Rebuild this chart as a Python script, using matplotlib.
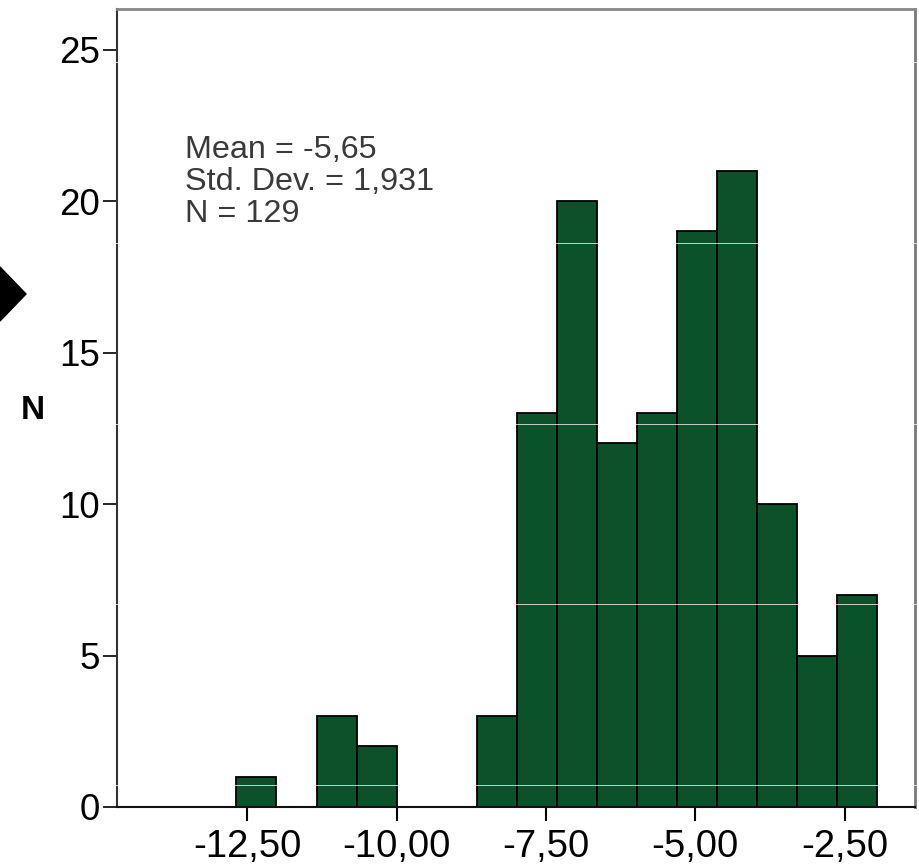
import numpy as np
import matplotlib
matplotlib.use('Agg')
import matplotlib.pyplot as plt
from matplotlib.patches import Polygon
from matplotlib.lines import Line2D

# ---- data ----
bin_start = -12.68
bin_width = 0.67
counts = [1, 0, 3, 2, 0, 0, 3, 13, 20, 12, 13, 19, 21, 10, 5, 7]
x_ticks = [-12.5, -10.0, -7.5, -5.0, -2.5]
x_tick_labels = ['-12,50', '-10,00', '-7,50', '-5,00', '-2,50']
y_ticks = [0, 5, 10, 15, 20, 25]
y_tick_labels = ['0', '5', '10', '15', '20', '25']
stats_lines = ['Mean = -5,65', 'Std. Dev. = 1,931', 'N = 129']
y_label = 'N'

plt.rcParams['font.family'] = ['Liberation Sans', 'DejaVu Sans']

W, H = 919, 865
fig = plt.figure(figsize=(W / 100, H / 100), dpi=100)
fig.patch.set_facecolor('white')

def fx(px):
    return px / W

def fy(py):
    return 1 - py / H

ax = fig.add_axes([fx(117), fy(807), (915 - 117) / W, (807 - 9) / H])

edges = bin_start + bin_width * np.arange(len(counts) + 1)
centers = (edges[:-1] + edges[1:]) / 2
ax.hist(centers, bins=edges, weights=counts, color='#0b522b',
        edgecolor='black', linewidth=1.3)

ax.set_xlim(-14.68, -1.32)
ax.set_ylim(0, 26.34)

ax.set_xticks(x_ticks)
ax.set_xticklabels(x_tick_labels)
ax.set_yticks(y_ticks)
ax.set_yticklabels(y_tick_labels)
ax.tick_params(axis='x', length=10, width=1.5, pad=6, labelsize=27.5, colors='black')
ax.tick_params(axis='y', length=10, width=1.2, pad=2, labelsize=26.5, colors='black')

ax.spines['left'].set_color('#333333')
ax.spines['left'].set_linewidth(1.5)
ax.spines['bottom'].set_color('#111111')
ax.spines['bottom'].set_linewidth(1.5)
ax.spines['top'].set_color('#888888')
ax.spines['top'].set_linewidth(2)
ax.spines['right'].set_color('#777777')
ax.spines['right'].set_linewidth(2)

# stats annotation
baselines = [158.3, 190.0, 221.7]
for txt, b in zip(stats_lines, baselines):
    fig.text(fx(185), fy(b), txt, ha='left', va='baseline', fontsize=23.3,
             color='#3a3a3a')

# y label
fig.text(fx(33), fy(411), y_label, ha='center', va='center', fontsize=24,
         fontweight='bold', color='black')

# black diamond marker at left edge
diamond = Polygon([(fx(-26), fy(294)), (fx(0), fy(267)), (fx(26), fy(294)),
                   (fx(0), fy(321))], closed=True, transform=fig.transFigure,
                  facecolor='black', edgecolor='black')
fig.add_artist(diamond)

# faint horizontal scan lines seen in the reference
for py in [62, 243, 424, 604, 785]:
    fig.add_artist(Line2D([fx(110), fx(919)], [fy(py), fy(py)], transform=fig.transFigure,
                          color='white', linewidth=0.7, alpha=0.75, zorder=10))

fig.savefig('out.png', dpi=100)
